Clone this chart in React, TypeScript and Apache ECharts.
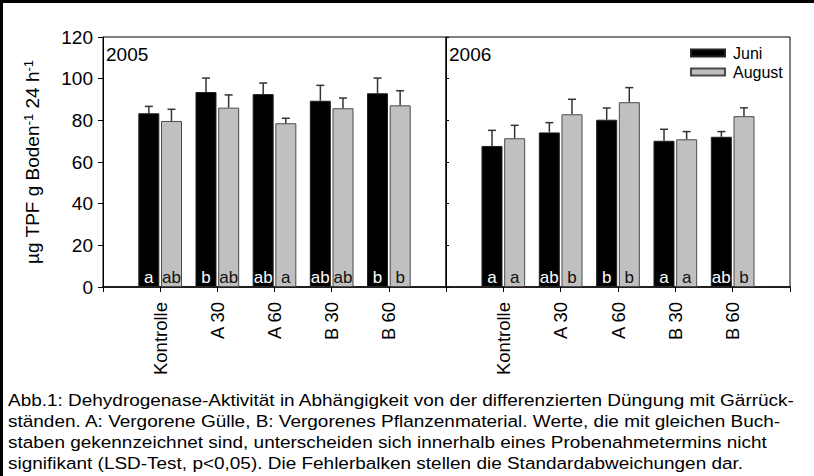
import React, { useEffect, useRef } from "react";
import * as echarts from "echarts";

const categories = ["Kontrolle", "A 30", "A 60", "B 30", "B 60"];
const seriesNames = ["Juni", "August"];

const juni2005 = [83.4, 93.6, 92.6, 89.4, 93.0];
const juni2005Err = [3.3, 6.7, 5.3, 7.4, 7.3];
const aug2005 = [79.7, 86.1, 78.6, 85.8, 87.2];
const aug2005Err = [5.6, 6.1, 2.4, 4.9, 7.0];

const juni2006 = [67.7, 74.2, 80.3, 70.2, 72.1];
const juni2006Err = [7.5, 4.7, 5.6, 5.5, 2.5];
const aug2006 = [71.4, 82.9, 88.7, 70.9, 82.0];
const aug2006Err = [6.2, 7.2, 7.0, 3.7, 4.0];

const juni2005Letters = ["a", "b", "ab", "ab", "b"];
const aug2005Letters = ["ab", "ab", "a", "ab", "b"];
const juni2006Letters = ["a", "ab", "b", "a", "ab"];
const aug2006Letters = ["a", "b", "b", "a", "b"];

const yearLabels = ["2005", "2006"];
const yTitle = "µg TPF g Boden{sup|-1} 24 h{sup|-1}";
const captionLines = [
  "Abb.1: Dehydrogenase-Aktivität in Abhängigkeit von der differenzierten Düngung mit Gärrück-",
  "ständen. A: Vergorene Gülle, B: Vergorenes Pflanzenmaterial. Werte, die mit gleichen Buch-",
  "staben gekennzeichnet sind, unterscheiden sich innerhalb eines Probenahmetermins nicht",
  "signifikant (LSD-Test, p<0,05). Die Fehlerbalken stellen die Standardabweichungen dar.",
];

const FONT = "'Liberation Sans', Arial, sans-serif";
const BAR_W = 21;
const OFFSET = 11.3;

const axisCats = ["", ...categories, ""];
const pad = (arr: number[]) => ["-", ...arr, "-"];

function errData(vals: number[], errs: number[]) {
  return vals.map((v, i) => [i + 1, v, errs[i]]);
}

function makeErrSeries(vals: number[], errs: number[], gridIdx: number, dx: number) {
  return {
    type: "custom",
    xAxisIndex: gridIdx,
    yAxisIndex: gridIdx,
    z: 5,
    silent: true,
    encode: { x: 0, y: 1 },
    data: errData(vals, errs),
    renderItem: (params: any, api: any) => {
      const x = api.value(0);
      const v = api.value(1);
      const e = api.value(2);
      const p0 = api.coord([x, v]);
      const p1 = api.coord([x, v + e]);
      const cx = p0[0] + dx;
      const st = { stroke: "#333", lineWidth: 1.5 };
      return {
        type: "group",
        children: [
          { type: "line", shape: { x1: cx, y1: p0[1], x2: cx, y2: p1[1] }, style: st },
          { type: "line", shape: { x1: cx - 4, y1: p1[1], x2: cx + 4, y2: p1[1] }, style: st },
        ],
      };
    },
  };
}

function makeBar(
  name: string,
  vals: number[],
  letters: string[],
  gridIdx: number,
  dark: boolean
) {
  return {
    type: "bar",
    name,
    xAxisIndex: gridIdx,
    yAxisIndex: gridIdx,
    data: pad(vals),
    barWidth: BAR_W,
    barGap: "8%",
    itemStyle: dark
      ? { color: "#000", borderColor: "#222", borderWidth: 1 }
      : { color: "#c0c0c0", borderColor: "#4a4a4a", borderWidth: 1 },
    label: {
      show: true,
      position: "insideBottom",
      distance: 1,
      fontFamily: FONT,
      fontSize: 17,
      color: dark ? "#fff" : "#111",
      formatter: (p: any) => letters[p.dataIndex - 1] ?? "",
    },
  };
}

export default function App() {
  const ref = useRef<HTMLDivElement>(null);

  useEffect(() => {
    if (!ref.current) return;
    const chart = echarts.init(ref.current, undefined, { renderer: "svg" });

    const xAxisBase = (gridIndex: number) => ({
      type: "category",
      gridIndex,
      data: axisCats,
      boundaryGap: false,
      axisLine: { show: true, lineStyle: { color: "#000", width: 1.5 } },
      axisTick: { show: true, length: 5, lineStyle: { color: "#000" } },
      axisLabel: {
        rotate: 90,
        fontFamily: FONT,
        fontSize: 18.5,
        color: "#000",
        margin: 15,
        interval: 0,
      },
      splitLine: { show: false },
    });

    const option: any = {
      animation: false,
      backgroundColor: "#fff",
      textStyle: { fontFamily: FONT },
      grid: [
        { left: 103, top: 37, width: 343, height: 250, show: true, borderColor: "#000", borderWidth: 1 },
        { left: 446, top: 37, width: 344, height: 250, show: true, borderColor: "#000", borderWidth: 1 },
      ],
      xAxis: [xAxisBase(0), xAxisBase(1)],
      yAxis: [
        {
          type: "value",
          gridIndex: 0,
          min: 0,
          max: 120,
          interval: 20,
          axisLine: { show: true, lineStyle: { color: "#000" } },
          axisTick: { show: true, length: 5, lineStyle: { color: "#000" } },
          axisLabel: { fontFamily: FONT, fontSize: 19, color: "#000", margin: 10 },
          splitLine: { show: false },
          name: yTitle,
          nameLocation: "middle",
          nameRotate: 90,
          nameGap: 60,
          nameTextStyle: {
            fontFamily: FONT,
            fontSize: 19,
            color: "#000",
            rich: {
              sup: { fontFamily: FONT, fontSize: 13, color: "#000", verticalAlign: "top", padding: [0, 0, 8, 0] },
            },
          },
        },
        {
          type: "value",
          gridIndex: 1,
          min: 0,
          max: 120,
          interval: 20,
          axisLine: { show: true, lineStyle: { color: "#000" } },
          axisTick: { show: true, inside: true, length: 3, lineStyle: { color: "#000" } },
          axisLabel: { show: false },
          splitLine: { show: false },
        },
      ],
      legend: {
        data: seriesNames,
        orient: "vertical",
        left: 690,
        top: 45,
        padding: 0,
        itemWidth: 34,
        itemHeight: 7,
        itemGap: 3,
        icon: "rect",
        textStyle: { fontFamily: FONT, fontSize: 16, color: "#000", padding: [0, 0, 0, 3] },
      },
      series: [
        makeBar(seriesNames[0], juni2005, juni2005Letters, 0, true),
        makeBar(seriesNames[1], aug2005, aug2005Letters, 0, false),
        makeBar(seriesNames[0], juni2006, juni2006Letters, 1, true),
        makeBar(seriesNames[1], aug2006, aug2006Letters, 1, false),
        makeErrSeries(juni2005, juni2005Err, 0, -OFFSET),
        makeErrSeries(aug2005, aug2005Err, 0, OFFSET),
        makeErrSeries(juni2006, juni2006Err, 1, -OFFSET),
        makeErrSeries(aug2006, aug2006Err, 1, OFFSET),
      ],
      graphic: [
        { type: "rect", left: 0, top: 0, shape: { width: 814, height: 3 }, style: { fill: "#000" } },
        { type: "rect", left: 0, top: 0, shape: { width: 3, height: 476 }, style: { fill: "#000" } },
        { type: "text", left: 106, top: 45, style: { text: yearLabels[0], font: `19px ${FONT}`, fill: "#000" } },
        { type: "text", left: 449, top: 45, style: { text: yearLabels[1], font: `19px ${FONT}`, fill: "#000" } },
        ...captionLines.map((t, i) => ({
          type: "text",
          x: 8,
          y: 392 + i * 21,
          scaleX: 1.15,
          style: { text: t, font: `16.5px ${FONT}`, fill: "#000" },
        })),
      ],
    };

    chart.setOption(option);
    return () => chart.dispose();
  }, []);

  return (
    <div
      ref={ref}
      style={{ position: "fixed", left: 0, top: 0, width: 814, height: 476, background: "#fff" }}
    />
  );
}
